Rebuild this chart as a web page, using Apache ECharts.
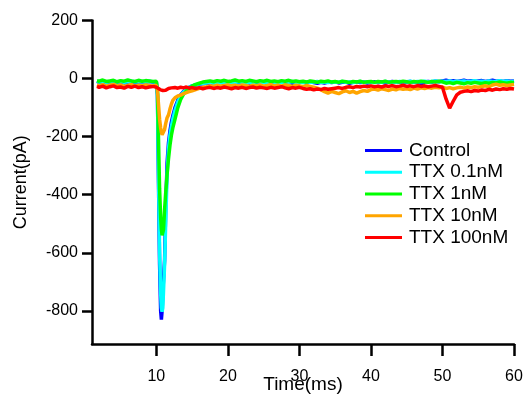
<!DOCTYPE html>
<html>
<head>
<meta charset="utf-8">
<script src="https://cdn.jsdelivr.net/npm/echarts@6/dist/echarts.min.js"></script>
<style>
html,body{margin:0;padding:0;background:#fff;}
#chart{width:524px;height:403px;}
</style>
</head>
<body>
<div id="chart"></div>
<script>
// time points (ms)
var timeMs = [
  1.7, 2.0, 2.5, 3.0, 3.5, 4.0, 4.5, 5.0, 5.5, 6.0,
  6.5, 7.0, 7.5, 8.0, 8.5, 9.0, 9.5, 10.0,
  10.15, 10.3, 10.45, 10.6, 10.7, 10.8, 10.9, 11.0, 11.15, 11.3,
  11.5, 11.7, 11.9, 12.1, 12.3, 12.6, 13.0, 13.4, 13.8, 14.2,
  14.6, 15.0,
  15.5, 16.0, 16.5, 17.0, 17.5, 18.0, 18.5, 19.0, 19.5, 20.0,
  20.5, 21.0, 21.5, 22.0, 22.5, 23.0, 23.5, 24.0, 24.5, 25.0,
  25.5, 26.0, 26.5, 27.0, 27.5, 28.0, 28.5, 29.0, 29.5, 30.0,
  30.5, 31.0, 31.5, 32.0, 32.5, 33.0, 33.5, 34.0, 34.5, 35.0,
  35.5, 36.0, 36.5, 37.0, 37.5, 38.0, 38.5, 39.0, 39.5, 40.0,
  40.5, 41.0, 41.5, 42.0, 42.5, 43.0, 43.5, 44.0, 44.5, 45.0,
  45.5, 46.0, 46.5, 47.0, 47.5, 48.0, 48.5, 49.0, 49.5, 50.0,
  50.5, 51.0, 51.5, 52.0, 52.5, 53.0, 53.5, 54.0, 54.5, 55.0,
  55.5, 56.0, 56.5, 57.0, 57.5, 58.0, 58.5, 59.0, 59.5, 60.0
];

var seriesNames = ['Control', 'TTX 0.1nM', 'TTX 1nM', 'TTX 10nM', 'TTX 100nM'];
var seriesColors = ['#0000ff', '#00ffff', '#00ff00', '#ffa500', '#ff0000'];

// current (pA)
var control = [
  -10, -13, -11, -14, -12, -9, -13, -11, -15, -12,
  -10, -14, -12, -11, -13, -10, -12, -13,
  -55, -360, -640, -800, -830, -800, -740, -690, -625, -450,
  -290, -220, -180, -150, -128, -100, -74, -56, -44, -36,
  -30, -25,
  -22, -19, -18, -15, -17, -14, -16, -13, -17, -15,
  -13, -16, -14, -17, -13, -15, -12, -16, -14, -13,
  -16, -12, -15, -13, -11, -15, -13, -16, -12, -14,
  -12, -15, -11, -14, -16, -13, -15, -12, -14, -11,
  -15, -13, -12, -16, -13, -11, -14, -12, -15, -13,
  -11, -14, -12, -15, -12, -10, -13, -11, -14, -12,
  -10, -13, -11, -18, -12, -10, -12, -9, -11, -8,
  -6, -9, -7, -10, -8, -6, -9, -7, -10, -8,
  -7, -10, -8, -6, -9, -8, -10, -7, -9, -8
];
var ttx01 = [
  -9, -12, -10, -13, -11, -8, -12, -10, -13, -11,
  -9, -12, -11, -10, -12, -9, -11, -12,
  -50, -330, -600, -740, -790, -803, -790, -730, -640, -500,
  -330, -240, -195, -165, -140, -110, -80, -60, -46, -37,
  -30, -25,
  -21, -18, -16, -15, -13, -15, -12, -14, -12, -15,
  -12, -14, -11, -13, -15, -12, -14, -11, -13, -12,
  -14, -11, -13, -12, -14, -11, -13, -10, -13, -12,
  -14, -11, -13, -12, -10, -13, -12, -14, -11, -13,
  -12, -10, -13, -11, -14, -12, -10, -13, -11, -12,
  -14, -11, -13, -10, -12, -11, -13, -10, -12, -11,
  -9, -12, -10, -11, -9, -12, -10, -8, -11, -9,
  -10, -8, -11, -9, -10, -8, -11, -9, -7, -10,
  -9, -11, -8, -10, -9, -7, -10, -8, -11, -9
];
var ttx1 = [
  -7, -9, -5, -10, -8, -6, -11, -7, -9, -5,
  -8, -10, -6, -9, -7, -8, -10, -9,
  -40, -210, -380, -480, -520, -540, -545, -520, -450, -395,
  -330, -275, -230, -195, -170, -140, -100, -72, -54, -42,
  -33, -26,
  -20, -16, -12, -10, -8, -11, -7, -9, -6, -10,
  -8, -5, -9, -7, -10, -6, -8, -11, -7, -9,
  -6, -10, -8, -11, -7, -9, -6, -10, -8, -11,
  -9, -12, -8, -10, -13, -9, -11, -8, -12, -10,
  -13, -9, -11, -14, -10, -12, -9, -13, -11, -10,
  -13, -10, -12, -9, -13, -11, -10, -12, -9, -11,
  -13, -10, -12, -9, -11, -13, -10, -12, -9, -11,
  -16, -14, -17, -13, -15, -18, -14, -16, -13, -15,
  -17, -14, -16, -13, -15, -12, -14, -16, -13, -14
];
var ttx10 = [
  -22, -25, -21, -26, -23, -20, -25, -22, -27, -24,
  -21, -26, -23, -25, -22, -24, -26, -23,
  -40, -90, -140, -170, -185, -193, -196, -192, -175, -155,
  -135, -125, -105, -88, -75, -66, -60, -57, -52, -48,
  -45, -42,
  -38, -34, -30, -28, -25, -27, -23, -26, -24, -22,
  -25, -23, -26, -22, -24, -27, -23, -25, -22, -26,
  -24, -21, -25, -23, -26, -22, -24, -27, -23, -25,
  -28, -24, -27, -30, -33, -38, -45, -50, -44, -48,
  -52, -46, -42, -48, -44, -50, -45, -41, -44, -38,
  -36, -40, -35, -38, -41, -36, -39, -34, -37, -35,
  -38, -33, -36, -32, -34, -31, -33, -30, -32, -29,
  -34, -31, -35, -32, -30, -33, -29, -31, -28, -30,
  -27, -25, -28, -22, -19, -23, -21, -24, -22, -20
];
var ttx100 = [
  -27, -30, -26, -32, -28, -25, -31, -29, -33, -27,
  -30, -26, -31, -28, -32, -29, -27, -30,
  -31, -34, -37, -39, -40, -38, -41, -39, -37, -40,
  -36, -34, -35, -32, -34, -31, -33, -30, -32, -29,
  -33, -31,
  -34, -31, -35, -32, -30, -34, -31, -33, -29, -32,
  -35, -31, -33, -30, -34, -31, -29, -33, -30, -32,
  -34, -30, -33, -31, -28, -32, -35, -31, -33, -30,
  -34, -37, -35, -39, -36, -38, -34, -37, -35, -33,
  -31, -34, -30, -28, -31, -27, -29, -26, -28, -25,
  -28, -26, -29, -25, -27, -24, -28, -26, -23, -27,
  -25, -28, -24, -27, -25, -28, -26, -24, -27, -30,
  -70, -102, -78, -56, -47, -44, -42, -45, -41, -43,
  -39, -41, -37, -40, -36, -38, -35, -37, -34, -36
];

var xTicks = [10, 20, 30, 40, 50, 60];
var yTicks = [-800, -600, -400, -200, 0, 200];

function pairs(vals) {
  var out = [];
  for (var i = 0; i < vals.length; i++) out.push([timeMs[i], vals[i]]);
  return out;
}
var allValues = [control, ttx01, ttx1, ttx10, ttx100];

var FONT = '"Liberation Sans", Arial, sans-serif';
var chart = echarts.init(document.getElementById('chart'), null, {renderer: 'canvas'});
chart.setOption({
  animation: false,
  backgroundColor: '#ffffff',
  grid: {left: 92, right: 10, top: 20.5, bottom: 59, containLabel: false, outerBoundsMode: 'none'},
  legend: {
    orient: 'vertical',
    left: 365,
    top: 140,
    padding: 0,
    icon: 'rect',
    itemWidth: 37,
    itemHeight: 3,
    itemGap: 0.75,
    data: seriesNames,
    textStyle: {fontFamily: FONT, fontSize: 19, color: '#000', lineHeight: 21, padding: [0, 0, 0, 2]}
  },
  xAxis: {
    type: 'value',
    min: 1,
    max: 60,
    name: 'Time(ms)',
    nameLocation: 'middle',
    nameGap: 31,
    nameMoveOverlap: false,
    nameTextStyle: {fontFamily: FONT, fontSize: 19, color: '#000'},
    axisLine: {onZero: false, lineStyle: {color: '#000', width: 2.5}},
    axisTick: {show: true, inside: false, length: 12, lineStyle: {color: '#000', width: 2.5}, customValues: xTicks},
    axisLabel: {fontFamily: FONT, fontSize: 16, color: '#000', margin: 25, customValues: xTicks},
    splitLine: {show: false}
  },
  yAxis: {
    type: 'value',
    min: -914,
    max: 200,
    name: 'Current(pA)',
    nameLocation: 'middle',
    nameGap: 62,
    nameMoveOverlap: false,
    nameTextStyle: {fontFamily: FONT, fontSize: 18, color: '#000'},
    axisLine: {show: true, onZero: false, lineStyle: {color: '#000', width: 2.5}},
    axisTick: {show: true, inside: false, length: 10, lineStyle: {color: '#000', width: 2.5}, customValues: yTicks},
    axisLabel: {fontFamily: FONT, fontSize: 16, color: '#000', margin: 14, customValues: yTicks},
    splitLine: {show: false}
  },
  series: seriesNames.map(function (name, i) {
    return {
      name: name,
      type: 'line',
      data: pairs(allValues[i]),
      showSymbol: false,
      symbol: 'none',
      color: seriesColors[i],
      lineStyle: {color: seriesColors[i], width: 3.5},
      z: 2 + i
    };
  })
});
</script>
</body>
</html>
